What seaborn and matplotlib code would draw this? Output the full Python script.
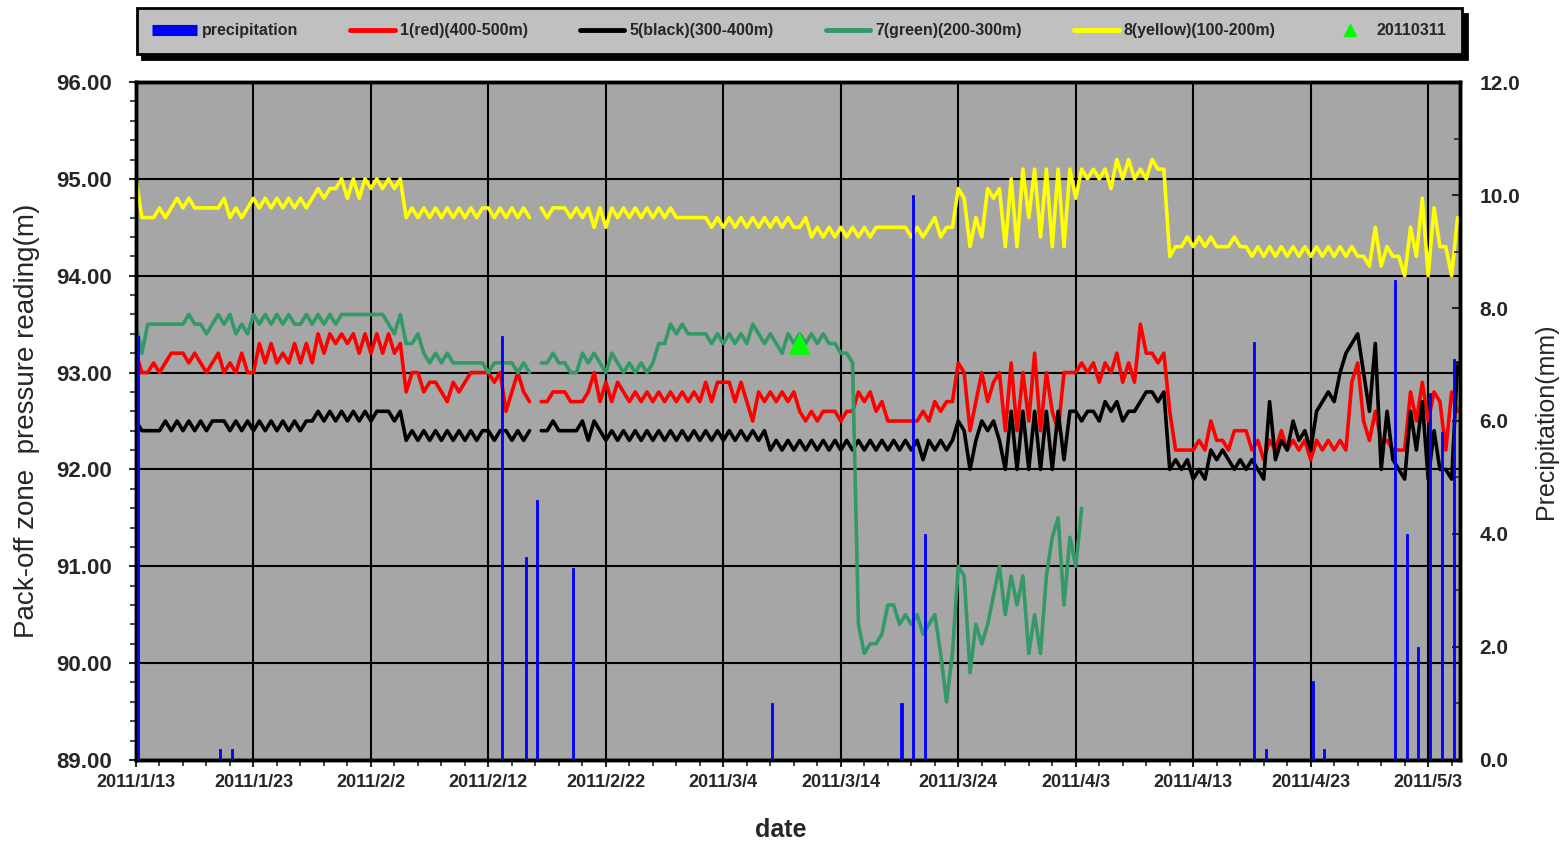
import matplotlib
matplotlib.use('Agg')
import matplotlib.pyplot as plt
import matplotlib.dates as mdates
from matplotlib.lines import Line2D
from matplotlib.ticker import MultipleLocator, FixedLocator, FuncFormatter, FormatStrFormatter
import seaborn as sns
import numpy as np
import pandas as pd

nan = np.nan

# readings every 12 hours starting 2011/1/13 00:00 (pack-off zone pressure, m)
red_1 = [
    93.2, 93.0, 93.0, 93.1, 93.0, 93.1, 93.2, 93.2, 93.2, 93.1, 93.2, 93.1, 93.0, 93.1, 93.2, 93.0, 93.1, 93.0, 93.2, 93.0,
    93.0, 93.3, 93.1, 93.3, 93.1, 93.2, 93.1, 93.3, 93.1, 93.3, 93.1, 93.4, 93.2, 93.4, 93.3, 93.4, 93.3, 93.4, 93.2, 93.4,
    93.2, 93.4, 93.2, 93.4, 93.2, 93.3, 92.8, 93.0, 93.0, 92.8, 92.9, 92.9, 92.8, 92.7, 92.9, 92.8, 92.9, 93.0, 93.0, 93.0,
    93.0, 92.9, 93.0, 92.6, 92.8, 93.0, 92.8, 92.7, nan, 92.7, 92.7, 92.8, 92.8, 92.8, 92.7, 92.7, 92.7, 92.8, 93.0, 92.7,
    92.9, 92.7, 92.9, 92.8, 92.7, 92.8, 92.7, 92.8, 92.7, 92.8, 92.7, 92.8, 92.7, 92.8, 92.7, 92.8, 92.7, 92.9, 92.7, 92.9,
    92.9, 92.9, 92.7, 92.9, 92.7, 92.5, 92.8, 92.7, 92.8, 92.7, 92.8, 92.7, 92.8, 92.6, 92.5, 92.6, 92.5, 92.6, 92.6, 92.6,
    92.5, 92.6, 92.6, 92.8, 92.7, 92.8, 92.6, 92.7, 92.5, 92.5, 92.5, 92.5, 92.5, 92.5, 92.6, 92.5, 92.7, 92.6, 92.7, 92.7,
    93.1, 93.0, 92.4, 92.7, 93.0, 92.7, 92.9, 93.0, 92.4, 93.1, 92.4, 93.0, 92.5, 93.2, 92.4, 93.0, 92.6, 92.4, 93.0, 93.0,
    93.0, 93.1, 93.0, 93.1, 92.9, 93.1, 93.0, 93.2, 92.9, 93.1, 92.9, 93.5, 93.2, 93.2, 93.1, 93.2, 92.6, 92.2, 92.2, 92.2,
    92.2, 92.3, 92.2, 92.5, 92.3, 92.3, 92.2, 92.4, 92.4, 92.4, 92.2, 92.3, 92.1, 92.3, 92.2, 92.4, 92.2, 92.3, 92.2, 92.3,
    92.1, 92.3, 92.2, 92.3, 92.2, 92.3, 92.2, 92.9, 93.1, 92.5, 92.3, 92.6, 92.3, 92.3, 92.2, 92.2, 92.2, 92.8, 92.5, 92.9,
    92.5, 92.8, 92.7, 92.2, 92.8, 92.6,
]
black_5 = [
    92.5, 92.4, 92.4, 92.4, 92.4, 92.5, 92.4, 92.5, 92.4, 92.5, 92.4, 92.5, 92.4, 92.5, 92.5, 92.5, 92.4, 92.5, 92.4, 92.5,
    92.4, 92.5, 92.4, 92.5, 92.4, 92.5, 92.4, 92.5, 92.4, 92.5, 92.5, 92.6, 92.5, 92.6, 92.5, 92.6, 92.5, 92.6, 92.5, 92.6,
    92.5, 92.6, 92.6, 92.6, 92.5, 92.6, 92.3, 92.4, 92.3, 92.4, 92.3, 92.4, 92.3, 92.4, 92.3, 92.4, 92.3, 92.4, 92.3, 92.4,
    92.4, 92.3, 92.4, 92.4, 92.3, 92.4, 92.3, 92.4, nan, 92.4, 92.4, 92.5, 92.4, 92.4, 92.4, 92.4, 92.5, 92.3, 92.5, 92.4,
    92.3, 92.4, 92.3, 92.4, 92.3, 92.4, 92.3, 92.4, 92.3, 92.4, 92.3, 92.4, 92.3, 92.4, 92.3, 92.4, 92.3, 92.4, 92.3, 92.4,
    92.3, 92.4, 92.3, 92.4, 92.3, 92.4, 92.3, 92.4, 92.2, 92.3, 92.2, 92.3, 92.2, 92.3, 92.2, 92.3, 92.2, 92.3, 92.2, 92.3,
    92.2, 92.3, 92.2, 92.3, 92.2, 92.3, 92.2, 92.3, 92.2, 92.3, 92.2, 92.3, 92.2, 92.3, 92.1, 92.3, 92.2, 92.3, 92.2, 92.3,
    92.5, 92.4, 92.0, 92.3, 92.5, 92.4, 92.5, 92.3, 92.0, 92.6, 92.0, 92.6, 92.0, 92.6, 92.0, 92.6, 92.0, 92.6, 92.1, 92.6,
    92.6, 92.5, 92.6, 92.6, 92.5, 92.7, 92.6, 92.7, 92.5, 92.6, 92.6, 92.7, 92.8, 92.8, 92.7, 92.8, 92.0, 92.1, 92.0, 92.1,
    91.9, 92.0, 91.9, 92.2, 92.1, 92.2, 92.1, 92.0, 92.1, 92.0, 92.1, 92.0, 91.9, 92.7, 92.1, 92.3, 92.2, 92.5, 92.3, 92.4,
    92.2, 92.6, 92.7, 92.8, 92.7, 93.0, 93.2, 93.3, 93.4, 93.0, 92.6, 93.3, 92.0, 92.6, 92.1, 92.0, 91.9, 92.6, 92.2, 92.7,
    91.9, 92.4, 92.0, 92.0, 91.9, 93.1,
]
green_7 = [
    93.5, 93.2, 93.5, 93.5, 93.5, 93.5, 93.5, 93.5, 93.5, 93.6, 93.5, 93.5, 93.4, 93.5, 93.6, 93.5, 93.6, 93.4, 93.5, 93.4,
    93.6, 93.5, 93.6, 93.5, 93.6, 93.5, 93.6, 93.5, 93.5, 93.6, 93.5, 93.6, 93.5, 93.6, 93.5, 93.6, 93.6, 93.6, 93.6, 93.6,
    93.6, 93.6, 93.6, 93.5, 93.4, 93.6, 93.3, 93.3, 93.4, 93.2, 93.1, 93.2, 93.1, 93.2, 93.1, 93.1, 93.1, 93.1, 93.1, 93.1,
    93.0, 93.1, 93.1, 93.1, 93.1, 93.0, 93.1, 93.0, nan, 93.1, 93.1, 93.2, 93.1, 93.1, 93.0, 93.0, 93.2, 93.1, 93.2, 93.1,
    93.0, 93.2, 93.1, 93.0, 93.1, 93.0, 93.1, 93.0, 93.1, 93.3, 93.3, 93.5, 93.4, 93.5, 93.4, 93.4, 93.4, 93.4, 93.3, 93.4,
    93.3, 93.4, 93.3, 93.4, 93.3, 93.5, 93.4, 93.3, 93.4, 93.3, 93.2, 93.4, 93.3, 93.4, 93.3, 93.4, 93.3, 93.4, 93.3, 93.3,
    93.2, 93.2, 93.1, 90.4, 90.1, 90.2, 90.2, 90.3, 90.6, 90.6, 90.4, 90.5, 90.4, 90.5, 90.3, 90.4, 90.5, 90.1, 89.6, 90.1,
    91.0, 90.9, 89.9, 90.4, 90.2, 90.4, 90.7, 91.0, 90.5, 90.9, 90.6, 90.9, 90.1, 90.5, 90.1, 90.9, 91.3, 91.5, 90.6, 91.3,
    91.0, 91.6,
]
yellow_8 = [
    95.0, 94.6, 94.6, 94.6, 94.7, 94.6, 94.7, 94.8, 94.7, 94.8, 94.7, 94.7, 94.7, 94.7, 94.7, 94.8, 94.6, 94.7, 94.6, 94.7,
    94.8, 94.7, 94.8, 94.7, 94.8, 94.7, 94.8, 94.7, 94.8, 94.7, 94.8, 94.9, 94.8, 94.9, 94.9, 95.0, 94.8, 95.0, 94.8, 95.0,
    94.9, 95.0, 94.9, 95.0, 94.9, 95.0, 94.6, 94.7, 94.6, 94.7, 94.6, 94.7, 94.6, 94.7, 94.6, 94.7, 94.6, 94.7, 94.6, 94.7,
    94.7, 94.6, 94.7, 94.6, 94.7, 94.6, 94.7, 94.6, nan, 94.7, 94.6, 94.7, 94.7, 94.7, 94.6, 94.7, 94.6, 94.7, 94.5, 94.7,
    94.5, 94.7, 94.6, 94.7, 94.6, 94.7, 94.6, 94.7, 94.6, 94.7, 94.6, 94.7, 94.6, 94.6, 94.6, 94.6, 94.6, 94.6, 94.5, 94.6,
    94.5, 94.6, 94.5, 94.6, 94.5, 94.6, 94.5, 94.6, 94.5, 94.6, 94.5, 94.6, 94.5, 94.5, 94.6, 94.4, 94.5, 94.4, 94.5, 94.4,
    94.5, 94.4, 94.5, 94.4, 94.5, 94.4, 94.5, 94.5, 94.5, 94.5, 94.5, 94.5, 94.4, 94.5, 94.4, 94.5, 94.6, 94.4, 94.5, 94.5,
    94.9, 94.8, 94.3, 94.6, 94.4, 94.9, 94.8, 94.9, 94.3, 95.0, 94.3, 95.1, 94.6, 95.1, 94.4, 95.1, 94.3, 95.1, 94.3, 95.1,
    94.8, 95.1, 95.0, 95.1, 95.0, 95.1, 94.9, 95.2, 95.0, 95.2, 95.0, 95.1, 95.0, 95.2, 95.1, 95.1, 94.2, 94.3, 94.3, 94.4,
    94.3, 94.4, 94.3, 94.4, 94.3, 94.3, 94.3, 94.4, 94.3, 94.3, 94.2, 94.3, 94.2, 94.3, 94.2, 94.3, 94.2, 94.3, 94.2, 94.3,
    94.2, 94.3, 94.2, 94.3, 94.2, 94.3, 94.2, 94.3, 94.2, 94.2, 94.1, 94.5, 94.1, 94.3, 94.2, 94.2, 94.0, 94.5, 94.2, 94.8,
    94.0, 94.7, 94.3, 94.3, 94.0, 94.6,
]

# daily precipitation (mm)
precip_dates = ['2011-01-13', '2011-01-20', '2011-01-21', '2011-02-13', '2011-02-15', '2011-02-16',
                '2011-02-19', '2011-03-08', '2011-03-19', '2011-03-20', '2011-03-21', '2011-04-18',
                '2011-04-19', '2011-04-23', '2011-04-24', '2011-04-30', '2011-05-01', '2011-05-02',
                '2011-05-03', '2011-05-04', '2011-05-05']
precip_mm = [7.5, 0.2, 0.2, 7.5, 3.6, 4.6, 3.4, 1.0, 1.0, 10.0, 4.0, 7.4,
             0.2, 1.4, 0.2, 8.5, 4.0, 2.0, 6.5, 5.8, 7.1]

# 20110311 marker, as placed on the original chart
event_time = '2011-03-10 12:00'
event_value = 93.3

sns.set_style('white')
plt.rcParams['font.family'] = ['Liberation Sans', 'DejaVu Sans']
plt.rcParams['font.weight'] = 'bold'

start = pd.Timestamp('2011-01-13')
times = pd.date_range(start, periods=len(red_1), freq='12h')

fig = plt.figure(figsize=(15.65, 8.43), dpi=100)
ax = fig.add_axes([0.0869, 0.0985, 0.8460, 0.8042])
ax.set_facecolor('#a6a6a6')
ax2 = ax.twinx()

series = [
    ('1(red)(400-500m)', red_1, '#ff0000'),
    ('5(black)(300-400m)', black_5, '#000000'),
    ('7(green)(200-300m)', green_7, '#339966'),
    ('8(yellow)(100-200m)', yellow_8, '#ffff00'),
]
for name, vals, col in series:
    df = pd.DataFrame({'time': times[:len(vals)], 'value': vals})
    # split into pieces at missing readings so the gap stays open
    df['seg'] = df['value'].isna().cumsum()
    df = df.dropna()
    sns.lineplot(data=df, x='time', y='value', units='seg', estimator=None,
                 color=col, lw=2.6, ax=ax, legend=False, zorder=3)

ev = pd.DataFrame({'time': [pd.Timestamp(event_time)], 'value': [event_value]})
sns.scatterplot(data=ev, x='time', y='value', marker='^', s=260, color='#00ff00',
                edgecolor='none', ax=ax, zorder=5, legend=False)

pdates = pd.to_datetime(precip_dates) + pd.Timedelta(hours=4)
ax2.bar(pdates, precip_mm, width=0.18, color='#0000ff', edgecolor='#0000ff',
        linewidth=0.6, zorder=4)

# axes ranges and ticks
ax.set_xlim(start, pd.Timestamp('2011-05-05 17:00'))
ax.set_ylim(89, 96)
ax2.set_ylim(0, 12)

major_days = pd.date_range(start, periods=12, freq='10D')
minor_days = pd.date_range(start, '2011-05-05', freq='2D')
ax.xaxis.set_major_locator(FixedLocator(mdates.date2num(major_days)))
ax.xaxis.set_minor_locator(FixedLocator(mdates.date2num(minor_days)))
ax.xaxis.set_major_formatter(FuncFormatter(
    lambda v, p: '{0.year}/{0.month}/{0.day}'.format(mdates.num2date(v))))
ax.yaxis.set_major_locator(MultipleLocator(1.0))
ax.yaxis.set_minor_locator(MultipleLocator(0.2))
ax.yaxis.set_major_formatter(FormatStrFormatter('%.2f'))
ax2.yaxis.set_major_locator(MultipleLocator(2.0))
ax2.yaxis.set_minor_locator(MultipleLocator(1.0))
ax2.yaxis.set_major_formatter(FormatStrFormatter('%.1f'))

ax.grid(True, which='major', color='black', lw=1.5)
ax.set_axisbelow(True)
ax2.grid(False)

ax.tick_params(axis='x', which='major', direction='out', length=5, width=1.5, pad=5, labelsize=13, bottom=True)
ax.tick_params(axis='x', which='minor', direction='out', length=4, width=1.2, bottom=True)
ax.tick_params(axis='y', which='major', direction='out', length=5, width=1.5, pad=12, labelsize=16, left=True)
ax.tick_params(axis='y', which='minor', direction='out', length=4, width=1.2, left=True)
ax2.tick_params(axis='y', which='major', direction='in', length=6, width=1.5, pad=14, labelsize=15, right=True)
ax2.tick_params(axis='y', which='minor', direction='in', length=4, width=1.2, right=True)

for a in (ax, ax2):
    for sp in a.spines.values():
        sp.set_color('black')
        sp.set_linewidth(2.5)

ax.set_xlabel('date', fontsize=18, fontweight='bold', labelpad=18)
ax.xaxis.set_label_coords(0.487, -0.085)
ax.set_ylabel('Pack-off zone  pressure reading(m)', fontsize=20, fontweight='normal', labelpad=12)
ax2.set_ylabel('Precipitation(mm)', fontsize=18, fontweight='normal', labelpad=10)

handles = [
    Line2D([], [], color='#0000ff', lw=8, solid_capstyle='butt'),
    Line2D([], [], color='#ff0000', lw=3.5),
    Line2D([], [], color='#000000', lw=3.5),
    Line2D([], [], color='#339966', lw=3.5),
    Line2D([], [], color='#ffff00', lw=3.5),
    Line2D([], [], color='#00ff00', marker='^', ls='none', ms=8),
]
labels = ['precipitation', '1(red)(400-500m)', '5(black)(300-400m)',
          '7(green)(200-300m)', '8(yellow)(100-200m)', '20110311']
leg = fig.legend(handles, labels, loc='center', ncol=6, mode='expand',
                 bbox_to_anchor=(0.0875, 0.9348, 0.8466, 0.0569), bbox_transform=fig.transFigure,
                 borderaxespad=0, fontsize=11.5, frameon=True, fancybox=False, handlelength=2.8,
                 borderpad=0.95, handletextpad=0.3, columnspacing=3.0,
                 shadow={'color': 'black', 'alpha': 1, 'ox': 4, 'oy': -4})
leg.get_frame().set_facecolor('#c0c0c0')
leg.get_frame().set_edgecolor('black')
leg.get_frame().set_linewidth(2)
leg.get_frame().set_alpha(1)

fig.savefig('out.png', dpi=100)
